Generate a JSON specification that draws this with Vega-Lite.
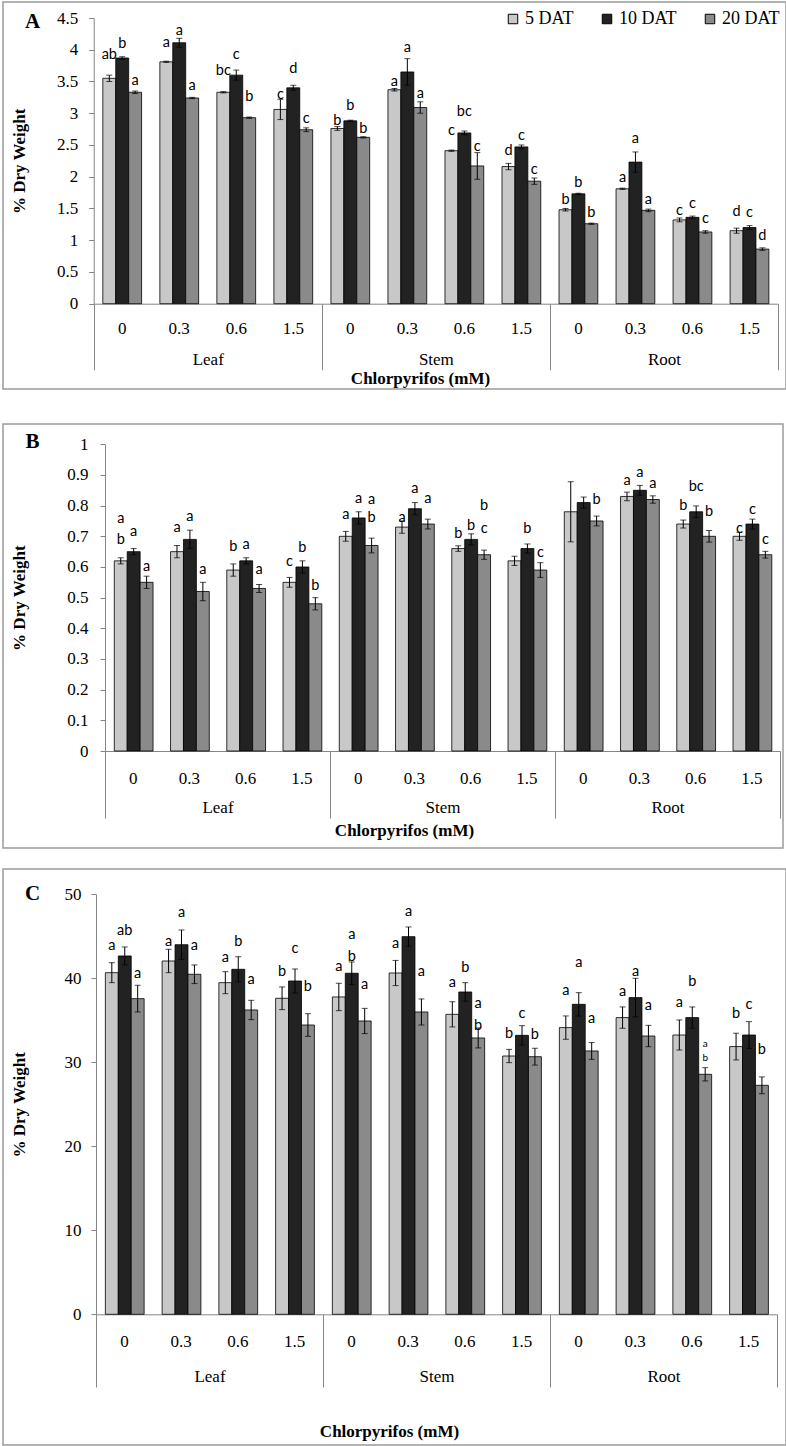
{
  "$schema": "https://vega.github.io/schema/vega-lite/v6.json",
  "padding": {"left": 2, "top": 1, "right": 0, "bottom": 0},
  "background": "white",
  "spacing": 33,
  "datasets": {
    "A": [
      {"cat":"Leaf 0","series":"5 DAT","value":3.55,"err":0.05},{"cat":"Leaf 0","series":"10 DAT","value":3.87,"err":0.02},{"cat":"Leaf 0","series":"20 DAT","value":3.33,"err":0.02},
      {"cat":"Leaf 0.3","series":"5 DAT","value":3.81,"err":0.01},{"cat":"Leaf 0.3","series":"10 DAT","value":4.11,"err":0.07},{"cat":"Leaf 0.3","series":"20 DAT","value":3.24,"err":0.01},
      {"cat":"Leaf 0.6","series":"5 DAT","value":3.33,"err":0.01},{"cat":"Leaf 0.6","series":"10 DAT","value":3.60,"err":0.08},{"cat":"Leaf 0.6","series":"20 DAT","value":2.93,"err":0.01},
      {"cat":"Leaf 1.5","series":"5 DAT","value":3.06,"err":0.16},{"cat":"Leaf 1.5","series":"10 DAT","value":3.40,"err":0.04},{"cat":"Leaf 1.5","series":"20 DAT","value":2.74,"err":0.03},
      {"cat":"Stem 0","series":"5 DAT","value":2.76,"err":0.03},{"cat":"Stem 0","series":"10 DAT","value":2.88,"err":0.01},{"cat":"Stem 0","series":"20 DAT","value":2.62,"err":0.01},
      {"cat":"Stem 0.3","series":"5 DAT","value":3.37,"err":0.02},{"cat":"Stem 0.3","series":"10 DAT","value":3.65,"err":0.21},{"cat":"Stem 0.3","series":"20 DAT","value":3.09,"err":0.09},
      {"cat":"Stem 0.6","series":"5 DAT","value":2.41,"err":0.01},{"cat":"Stem 0.6","series":"10 DAT","value":2.69,"err":0.03},{"cat":"Stem 0.6","series":"20 DAT","value":2.17,"err":0.21},
      {"cat":"Stem 1.5","series":"5 DAT","value":2.16,"err":0.05},{"cat":"Stem 1.5","series":"10 DAT","value":2.47,"err":0.03},{"cat":"Stem 1.5","series":"20 DAT","value":1.93,"err":0.05},
      {"cat":"Root 0","series":"5 DAT","value":1.48,"err":0.02},{"cat":"Root 0","series":"10 DAT","value":1.73,"err":0.01},{"cat":"Root 0","series":"20 DAT","value":1.26,"err":0.01},
      {"cat":"Root 0.3","series":"5 DAT","value":1.81,"err":0.01},{"cat":"Root 0.3","series":"10 DAT","value":2.23,"err":0.16},{"cat":"Root 0.3","series":"20 DAT","value":1.47,"err":0.02},
      {"cat":"Root 0.6","series":"5 DAT","value":1.32,"err":0.03},{"cat":"Root 0.6","series":"10 DAT","value":1.36,"err":0.02},{"cat":"Root 0.6","series":"20 DAT","value":1.13,"err":0.02},
      {"cat":"Root 1.5","series":"5 DAT","value":1.15,"err":0.04},{"cat":"Root 1.5","series":"10 DAT","value":1.20,"err":0.03},{"cat":"Root 1.5","series":"20 DAT","value":0.86,"err":0.02}
    ],
    "A_lab": [
      {"cat":"Leaf 0","series":"5 DAT","pos":3.92,"label":"ab"},{"cat":"Leaf 0","series":"10 DAT","pos":4.09,"label":"b"},{"cat":"Leaf 0","series":"20 DAT","pos":3.50,"label":"a"},
      {"cat":"Leaf 0.3","series":"5 DAT","pos":4.11,"label":"a"},{"cat":"Leaf 0.3","series":"10 DAT","pos":4.29,"label":"a"},{"cat":"Leaf 0.3","series":"20 DAT","pos":3.43,"label":"a"},
      {"cat":"Leaf 0.6","series":"5 DAT","pos":3.66,"label":"bc"},{"cat":"Leaf 0.6","series":"10 DAT","pos":3.91,"label":"c"},{"cat":"Leaf 0.6","series":"20 DAT","pos":3.26,"label":"b"},
      {"cat":"Leaf 1.5","series":"5 DAT","pos":3.28,"label":"c"},{"cat":"Leaf 1.5","series":"10 DAT","pos":3.69,"label":"d"},{"cat":"Leaf 1.5","series":"20 DAT","pos":2.91,"label":"c"},
      {"cat":"Stem 0","series":"5 DAT","pos":2.87,"label":"b"},{"cat":"Stem 0","series":"10 DAT","pos":3.12,"label":"b"},{"cat":"Stem 0","series":"20 DAT","pos":2.75,"label":"b"},
      {"cat":"Stem 0.3","series":"5 DAT","pos":3.49,"label":"a"},{"cat":"Stem 0.3","series":"10 DAT","pos":4.02,"label":"a"},{"cat":"Stem 0.3","series":"20 DAT","pos":3.31,"label":"a"},
      {"cat":"Stem 0.6","series":"5 DAT","pos":2.72,"label":"c"},{"cat":"Stem 0.6","series":"10 DAT","pos":3.02,"label":"bc"},{"cat":"Stem 0.6","series":"20 DAT","pos":2.47,"label":"c"},
      {"cat":"Stem 1.5","series":"5 DAT","pos":2.41,"label":"d"},{"cat":"Stem 1.5","series":"10 DAT","pos":2.64,"label":"c"},{"cat":"Stem 1.5","series":"20 DAT","pos":2.10,"label":"c"},
      {"cat":"Root 0","series":"5 DAT","pos":1.64,"label":"b"},{"cat":"Root 0","series":"10 DAT","pos":1.90,"label":"b"},{"cat":"Root 0","series":"20 DAT","pos":1.43,"label":"b"},
      {"cat":"Root 0.3","series":"5 DAT","pos":1.98,"label":"a"},{"cat":"Root 0.3","series":"10 DAT","pos":2.60,"label":"a"},{"cat":"Root 0.3","series":"20 DAT","pos":1.64,"label":"a"},
      {"cat":"Root 0.6","series":"5 DAT","pos":1.46,"label":"c"},{"cat":"Root 0.6","series":"10 DAT","pos":1.57,"label":"c"},{"cat":"Root 0.6","series":"20 DAT","pos":1.33,"label":"c"},
      {"cat":"Root 1.5","series":"5 DAT","pos":1.45,"label":"d"},{"cat":"Root 1.5","series":"10 DAT","pos":1.43,"label":"c"},{"cat":"Root 1.5","series":"20 DAT","pos":1.06,"label":"d"}
    ],
    "B": [
      {"cat":"Leaf 0","series":"5 DAT","value":0.62,"err":0.01},{"cat":"Leaf 0","series":"10 DAT","value":0.65,"err":0.01},{"cat":"Leaf 0","series":"20 DAT","value":0.55,"err":0.02},
      {"cat":"Leaf 0.3","series":"5 DAT","value":0.65,"err":0.02},{"cat":"Leaf 0.3","series":"10 DAT","value":0.69,"err":0.03},{"cat":"Leaf 0.3","series":"20 DAT","value":0.52,"err":0.03},
      {"cat":"Leaf 0.6","series":"5 DAT","value":0.59,"err":0.02},{"cat":"Leaf 0.6","series":"10 DAT","value":0.62,"err":0.01},{"cat":"Leaf 0.6","series":"20 DAT","value":0.53,"err":0.013},
      {"cat":"Leaf 1.5","series":"5 DAT","value":0.55,"err":0.016},{"cat":"Leaf 1.5","series":"10 DAT","value":0.60,"err":0.02},{"cat":"Leaf 1.5","series":"20 DAT","value":0.48,"err":0.02},
      {"cat":"Stem 0","series":"5 DAT","value":0.70,"err":0.016},{"cat":"Stem 0","series":"10 DAT","value":0.76,"err":0.02},{"cat":"Stem 0","series":"20 DAT","value":0.67,"err":0.024},
      {"cat":"Stem 0.3","series":"5 DAT","value":0.73,"err":0.02},{"cat":"Stem 0.3","series":"10 DAT","value":0.79,"err":0.02},{"cat":"Stem 0.3","series":"20 DAT","value":0.74,"err":0.016},
      {"cat":"Stem 0.6","series":"5 DAT","value":0.66,"err":0.009},{"cat":"Stem 0.6","series":"10 DAT","value":0.69,"err":0.018},{"cat":"Stem 0.6","series":"20 DAT","value":0.64,"err":0.015},
      {"cat":"Stem 1.5","series":"5 DAT","value":0.62,"err":0.015},{"cat":"Stem 1.5","series":"10 DAT","value":0.66,"err":0.015},{"cat":"Stem 1.5","series":"20 DAT","value":0.59,"err":0.024},
      {"cat":"Root 0","series":"5 DAT","value":0.78,"err":0.098},{"cat":"Root 0","series":"10 DAT","value":0.81,"err":0.018},{"cat":"Root 0","series":"20 DAT","value":0.75,"err":0.016},
      {"cat":"Root 0.3","series":"5 DAT","value":0.83,"err":0.014},{"cat":"Root 0.3","series":"10 DAT","value":0.85,"err":0.016},{"cat":"Root 0.3","series":"20 DAT","value":0.82,"err":0.012},
      {"cat":"Root 0.6","series":"5 DAT","value":0.74,"err":0.013},{"cat":"Root 0.6","series":"10 DAT","value":0.78,"err":0.019},{"cat":"Root 0.6","series":"20 DAT","value":0.70,"err":0.019},
      {"cat":"Root 1.5","series":"5 DAT","value":0.70,"err":0.013},{"cat":"Root 1.5","series":"10 DAT","value":0.74,"err":0.016},{"cat":"Root 1.5","series":"20 DAT","value":0.64,"err":0.011}
    ],
    "B_lab": [
      {"cat":"Leaf 0","series":"5 DAT","pos":0.757,"label":"a"},{"cat":"Leaf 0","series":"5 DAT","pos":0.687,"label":"b"},{"cat":"Leaf 0","series":"10 DAT","pos":0.714,"label":"a"},{"cat":"Leaf 0","series":"20 DAT","pos":0.60,"label":"a"},
      {"cat":"Leaf 0.3","series":"5 DAT","pos":0.726,"label":"a"},{"cat":"Leaf 0.3","series":"10 DAT","pos":0.763,"label":"a"},{"cat":"Leaf 0.3","series":"20 DAT","pos":0.589,"label":"a"},
      {"cat":"Leaf 0.6","series":"5 DAT","pos":0.665,"label":"b"},{"cat":"Leaf 0.6","series":"10 DAT","pos":0.672,"label":"a"},{"cat":"Leaf 0.6","series":"20 DAT","pos":0.589,"label":"a"},
      {"cat":"Leaf 1.5","series":"5 DAT","pos":0.616,"label":"c"},{"cat":"Leaf 1.5","series":"10 DAT","pos":0.661,"label":"b"},{"cat":"Leaf 1.5","series":"20 DAT","pos":0.538,"label":"b"},
      {"cat":"Stem 0","series":"5 DAT","pos":0.769,"label":"a"},{"cat":"Stem 0","series":"10 DAT","pos":0.821,"label":"a"},{"cat":"Stem 0","series":"20 DAT","pos":0.818,"label":"a"},{"cat":"Stem 0","series":"20 DAT","pos":0.759,"label":"b"},
      {"cat":"Stem 0.3","series":"5 DAT","pos":0.761,"label":"a"},{"cat":"Stem 0.3","series":"10 DAT","pos":0.855,"label":"a"},{"cat":"Stem 0.3","series":"20 DAT","pos":0.823,"label":"a"},
      {"cat":"Stem 0.6","series":"5 DAT","pos":0.709,"label":"b"},{"cat":"Stem 0.6","series":"10 DAT","pos":0.734,"label":"b"},{"cat":"Stem 0.6","series":"20 DAT","pos":0.799,"label":"b"},{"cat":"Stem 0.6","series":"20 DAT","pos":0.725,"label":"c"},
      {"cat":"Stem 1.5","series":"10 DAT","pos":0.723,"label":"b"},{"cat":"Stem 1.5","series":"20 DAT","pos":0.647,"label":"c"},
      {"cat":"Root 0","series":"20 DAT","pos":0.817,"label":"b"},
      {"cat":"Root 0.3","series":"5 DAT","pos":0.880,"label":"a"},{"cat":"Root 0.3","series":"10 DAT","pos":0.907,"label":"a"},{"cat":"Root 0.3","series":"20 DAT","pos":0.870,"label":"a"},
      {"cat":"Root 0.6","series":"5 DAT","pos":0.799,"label":"b"},{"cat":"Root 0.6","series":"10 DAT","pos":0.861,"label":"bc"},{"cat":"Root 0.6","series":"20 DAT","pos":0.780,"label":"b"},
      {"cat":"Root 1.5","series":"5 DAT","pos":0.723,"label":"c"},{"cat":"Root 1.5","series":"10 DAT","pos":0.785,"label":"c"},{"cat":"Root 1.5","series":"20 DAT","pos":0.687,"label":"c"}
    ],
    "C": [
      {"cat":"Leaf 0","series":"5 DAT","value":40.67,"err":1.19},{"cat":"Leaf 0","series":"10 DAT","value":42.66,"err":1.07},{"cat":"Leaf 0","series":"20 DAT","value":37.58,"err":1.59},
      {"cat":"Leaf 0.3","series":"5 DAT","value":42.06,"err":1.39},{"cat":"Leaf 0.3","series":"10 DAT","value":44.0,"err":1.75},{"cat":"Leaf 0.3","series":"20 DAT","value":40.48,"err":1.11},
      {"cat":"Leaf 0.6","series":"5 DAT","value":39.48,"err":1.31},{"cat":"Leaf 0.6","series":"10 DAT","value":41.07,"err":1.5},{"cat":"Leaf 0.6","series":"20 DAT","value":36.23,"err":1.15},
      {"cat":"Leaf 1.5","series":"5 DAT","value":37.62,"err":1.35},{"cat":"Leaf 1.5","series":"10 DAT","value":39.68,"err":1.43},{"cat":"Leaf 1.5","series":"20 DAT","value":34.44,"err":1.35},
      {"cat":"Stem 0","series":"5 DAT","value":37.78,"err":1.63},{"cat":"Stem 0","series":"10 DAT","value":40.6,"err":1.35},{"cat":"Stem 0","series":"20 DAT","value":34.92,"err":1.5},
      {"cat":"Stem 0.3","series":"5 DAT","value":40.63,"err":1.5},{"cat":"Stem 0.3","series":"10 DAT","value":44.96,"err":1.15},{"cat":"Stem 0.3","series":"20 DAT","value":35.99,"err":1.55},
      {"cat":"Stem 0.6","series":"5 DAT","value":35.71,"err":1.5},{"cat":"Stem 0.6","series":"10 DAT","value":38.37,"err":1.11},{"cat":"Stem 0.6","series":"20 DAT","value":32.9,"err":1.19},
      {"cat":"Stem 1.5","series":"5 DAT","value":30.75,"err":0.79},{"cat":"Stem 1.5","series":"10 DAT","value":33.21,"err":1.15},{"cat":"Stem 1.5","series":"20 DAT","value":30.67,"err":1.0},
      {"cat":"Root 0","series":"5 DAT","value":34.13,"err":1.39},{"cat":"Root 0","series":"10 DAT","value":36.9,"err":1.39},{"cat":"Root 0","series":"20 DAT","value":31.35,"err":1.0},
      {"cat":"Root 0.3","series":"5 DAT","value":35.32,"err":1.27},{"cat":"Root 0.3","series":"10 DAT","value":37.7,"err":2.3},{"cat":"Root 0.3","series":"20 DAT","value":33.13,"err":1.27},
      {"cat":"Root 0.6","series":"5 DAT","value":33.25,"err":1.79},{"cat":"Root 0.6","series":"10 DAT","value":35.32,"err":1.27},{"cat":"Root 0.6","series":"20 DAT","value":28.57,"err":0.79},
      {"cat":"Root 1.5","series":"5 DAT","value":31.87,"err":1.59},{"cat":"Root 1.5","series":"10 DAT","value":33.25,"err":1.59},{"cat":"Root 1.5","series":"20 DAT","value":27.26,"err":1.0}
    ],
    "C_lab": [
      {"cat":"Leaf 0","series":"5 DAT","pos":43.85,"label":"a"},{"cat":"Leaf 0","series":"10 DAT","pos":45.6,"label":"ab"},{"cat":"Leaf 0","series":"20 DAT","pos":40.5,"label":"a"},
      {"cat":"Leaf 0.3","series":"5 DAT","pos":44.37,"label":"a"},{"cat":"Leaf 0.3","series":"10 DAT","pos":47.8,"label":"a"},{"cat":"Leaf 0.3","series":"20 DAT","pos":43.85,"label":"a"},
      {"cat":"Leaf 0.6","series":"5 DAT","pos":42.46,"label":"a"},{"cat":"Leaf 0.6","series":"10 DAT","pos":44.37,"label":"b"},{"cat":"Leaf 0.6","series":"20 DAT","pos":39.76,"label":"a"},
      {"cat":"Leaf 1.5","series":"5 DAT","pos":40.75,"label":"b"},{"cat":"Leaf 1.5","series":"10 DAT","pos":43.53,"label":"c"},{"cat":"Leaf 1.5","series":"20 DAT","pos":39.0,"label":"b"},
      {"cat":"Stem 0","series":"5 DAT","pos":41.35,"label":"a"},{"cat":"Stem 0","series":"10 DAT","pos":45.12,"label":"a"},{"cat":"Stem 0","series":"10 DAT","pos":42.54,"label":"b"},{"cat":"Stem 0","series":"20 DAT","pos":39.17,"label":"a"},
      {"cat":"Stem 0.3","series":"5 DAT","pos":44.13,"label":"a"},{"cat":"Stem 0.3","series":"10 DAT","pos":47.9,"label":"a"},{"cat":"Stem 0.3","series":"20 DAT","pos":40.79,"label":"a"},
      {"cat":"Stem 0.6","series":"5 DAT","pos":39.4,"label":"a"},{"cat":"Stem 0.6","series":"10 DAT","pos":41.19,"label":"b"},{"cat":"Stem 0.6","series":"20 DAT","pos":36.9,"label":"a"},{"cat":"Stem 0.6","series":"20 DAT","pos":34.33,"label":"b"},
      {"cat":"Stem 1.5","series":"5 DAT","pos":33.41,"label":"b"},{"cat":"Stem 1.5","series":"10 DAT","pos":35.71,"label":"c"},{"cat":"Stem 1.5","series":"20 DAT","pos":33.21,"label":"b"},
      {"cat":"Root 0","series":"5 DAT","pos":38.49,"label":"a"},{"cat":"Root 0","series":"10 DAT","pos":41.87,"label":"a"},{"cat":"Root 0","series":"20 DAT","pos":35.12,"label":"a"},
      {"cat":"Root 0.3","series":"5 DAT","pos":38.41,"label":"a"},{"cat":"Root 0.3","series":"10 DAT","pos":40.75,"label":"a"},{"cat":"Root 0.3","series":"20 DAT","pos":36.71,"label":"a"},
      {"cat":"Root 0.6","series":"5 DAT","pos":37.1,"label":"a"},{"cat":"Root 0.6","series":"10 DAT","pos":39.56,"label":"b"},
      {"cat":"Root 1.5","series":"5 DAT","pos":35.71,"label":"b"},{"cat":"Root 1.5","series":"10 DAT","pos":36.79,"label":"c"},{"cat":"Root 1.5","series":"20 DAT","pos":31.43,"label":"b"}
    ],
    "C_small": [
      {"cat":"Root 0.6","series":"20 DAT","pos":32.14,"label":"a"},{"cat":"Root 0.6","series":"20 DAT","pos":30.48,"label":"b"}
    ],
    "organs": [{"organ":"Leaf"},{"organ":"Stem"},{"organ":"Root"}]
  },
  "vconcat": [
    {
      "width": 783, "height": 387,
      "resolve": {"scale": {"x": "independent", "y": "independent"}, "axis": {"x": "independent", "y": "independent"}},
      "layer": [
        {
          "encoding": {
            "x": {"field": "cat", "type": "nominal", "sort": null,
              "scale": {"domain": ["Leaf 0","Leaf 0.3","Leaf 0.6","Leaf 1.5","Stem 0","Stem 0.3","Stem 0.6","Stem 1.5","Root 0","Root 0.3","Root 0.6","Root 1.5"], "range": [90.7, 775], "paddingInner": 0.32, "paddingOuter": 0.16},
              "axis": {"orient": "bottom", "offset": -85.3, "title": null, "ticks": false, "domainColor": "#868686", "labelExpr": "split(datum.label, ' ')[1]", "labelFont": "Liberation Serif", "labelFontSize": 17, "labelColor": "black", "labelPadding": 17, "labelAngle": 0}},
            "xOffset": {"field": "series", "type": "nominal", "sort": null, "scale": {"domain": ["5 DAT","10 DAT","20 DAT"], "paddingInner": 0}}
          },
          "layer": [
            {
              "data": {"name": "A"},
              "mark": {"type": "bar", "stroke": "black", "strokeWidth": 0.8},
              "encoding": {
                "y": {"field": "value", "type": "quantitative", "scale": {"domain": [0, 4.5], "range": [301.7, 16], "nice": false},
                  "axis": {"title": "% Dry Weight", "offset": -90.7, "values": [0,0.5,1,1.5,2,2.5,3,3.5,4,4.5], "format": ".1~f", "grid": false, "domainColor": "#868686", "tickColor": "#868686", "tickSize": 5, "labelFont": "Liberation Serif", "labelFontSize": 17, "labelColor": "black", "labelPadding": 11, "titleFont": "Liberation Serif", "titleFontSize": 17, "titleFontWeight": "bold", "titleColor": "black", "titleX": -74.7, "titleBaseline": "middle"}},
                "color": {"field": "series", "type": "nominal", "sort": null, "scale": {"domain": ["5 DAT","10 DAT","20 DAT"], "range": ["#c8c8c8","#222222","#8a8a8a"]},
                  "legend": {"orient": "none", "legendX": 501, "legendY": 8, "direction": "horizontal", "title": null, "symbolType": "square", "symbolSize": 90, "symbolStrokeColor": "black", "symbolStrokeWidth": 1, "symbolOpacity": 1, "labelFont": "Liberation Serif", "labelFontSize": 18, "labelColor": "black", "labelOffset": 3, "columnPadding": 24, "padding": 0}}
              }
            },
            {
              "data": {"name": "A"},
              "mark": {"type": "errorbar", "ticks": true, "size": 6, "thickness": 1, "color": "black"},
              "encoding": {"y": {"field": "value", "type": "quantitative", "title": "% Dry Weight"}, "yError": {"field": "err"}}
            },
            {
              "data": {"name": "A_lab"},
              "mark": {"type": "text", "baseline": "middle", "font": "Lato", "fontSize": 14.5, "color": "black"},
              "encoding": {"y": {"field": "pos", "type": "quantitative", "title": "% Dry Weight"}, "text": {"field": "label"}}
            }
          ]
        },
        {
          "data": {"name": "organs"},
          "mark": {"type": "text", "text": "", "opacity": 0},
          "encoding": {
            "x": {"field": "organ", "type": "nominal", "sort": null,
              "scale": {"domain": ["Leaf","Stem","Root"], "range": [90.7, 775], "paddingInner": 0, "paddingOuter": 0},
              "axis": {"orient": "bottom", "offset": -85.3, "domain": false, "ticks": true, "tickBand": "extent", "tickSize": 66, "tickColor": "#868686", "labelFont": "Liberation Serif", "labelFontSize": 17, "labelColor": "black", "labelBaseline": "middle", "labelPadding": -10, "labelAngle": 0, "title": "Chlorpyrifos (mM)", "titleFont": "Liberation Serif", "titleFontSize": 17, "titleFontWeight": "bold", "titleColor": "black", "titleX": 417, "titleY": 74.5, "titleBaseline": "middle"}},
            "y": {"field": "organ", "type": "nominal", "sort": null, "scale": {"domain": ["Leaf","Stem","Root"]},
              "axis": {"orient": "left", "offset": 0, "labels": false, "ticks": false, "domain": false, "grid": false, "title": "A", "titleAngle": 0, "titleX": 29, "titleY": 19, "titleAlign": "center", "titleBaseline": "middle", "titleFont": "Liberation Serif", "titleFontSize": 21, "titleFontWeight": "bold", "titleColor": "black"}}
          }
        }
      ]
    },
    {
      "spacing": 19,
      "vconcat": [
        {
          "width": 780, "height": 424,
          "resolve": {"scale": {"x": "independent", "y": "independent"}, "axis": {"x": "independent", "y": "independent"}},
          "layer": [
            {
              "encoding": {
                "x": {"field": "cat", "type": "nominal", "sort": null,
                  "scale": {"domain": ["Leaf 0","Leaf 0.3","Leaf 0.6","Leaf 1.5","Stem 0","Stem 0.3","Stem 0.6","Stem 1.5","Root 0","Root 0.3","Root 0.6","Root 1.5"], "range": [102, 777], "paddingInner": 0.33, "paddingOuter": 0.165},
                  "axis": {"orient": "bottom", "offset": -97, "title": null, "ticks": false, "domainColor": "#868686", "labelExpr": "split(datum.label, ' ')[1]", "labelFont": "Liberation Serif", "labelFontSize": 17, "labelColor": "black", "labelPadding": 19, "labelAngle": 0}},
                "xOffset": {"field": "series", "type": "nominal", "sort": null, "scale": {"domain": ["5 DAT","10 DAT","20 DAT"], "paddingInner": 0}}
              },
              "layer": [
                {
                  "data": {"name": "B"},
                  "mark": {"type": "bar", "stroke": "black", "strokeWidth": 0.8},
                  "encoding": {
                    "y": {"field": "value", "type": "quantitative", "scale": {"domain": [0, 1], "range": [327, 20.3], "nice": false},
                      "axis": {"title": "% Dry Weight", "offset": -102, "values": [0,0.1,0.2,0.3,0.4,0.5,0.6,0.7,0.8,0.9,1], "format": ".1~f", "grid": false, "domainColor": "#868686", "tickColor": "#868686", "tickSize": 5, "labelFont": "Liberation Serif", "labelFontSize": 17, "labelColor": "black", "labelPadding": 12, "titleFont": "Liberation Serif", "titleFontSize": 17, "titleFontWeight": "bold", "titleColor": "black", "titleX": -86, "titleBaseline": "middle"}},
                    "color": {"field": "series", "type": "nominal", "sort": null, "scale": {"domain": ["5 DAT","10 DAT","20 DAT"], "range": ["#c8c8c8","#222222","#8a8a8a"]},
                      "legend": {"orient": "none", "legendX": 481, "legendY": 6.3, "direction": "horizontal", "title": null, "symbolType": "square", "symbolSize": 90, "symbolStrokeColor": "black", "symbolStrokeWidth": 1, "symbolOpacity": 1, "labelFont": "Liberation Serif", "labelFontSize": 18, "labelColor": "black", "labelOffset": 3, "columnPadding": 26, "padding": 0}}
                  }
                },
                {
                  "data": {"name": "B"},
                  "mark": {"type": "errorbar", "ticks": true, "size": 6, "thickness": 1, "color": "black"},
                  "encoding": {"y": {"field": "value", "type": "quantitative", "title": "% Dry Weight"}, "yError": {"field": "err"}}
                },
                {
                  "data": {"name": "B_lab"},
                  "mark": {"type": "text", "baseline": "middle", "font": "Lato", "fontSize": 14.5, "color": "black"},
                  "encoding": {"y": {"field": "pos", "type": "quantitative", "title": "% Dry Weight"}, "text": {"field": "label"}}
                }
              ]
            },
            {
              "data": {"name": "organs"},
              "mark": {"type": "text", "text": "", "opacity": 0},
              "encoding": {
                "x": {"field": "organ", "type": "nominal", "sort": null,
                  "scale": {"domain": ["Leaf","Stem","Root"], "range": [102, 777], "paddingInner": 0, "paddingOuter": 0},
                  "axis": {"orient": "bottom", "offset": -97, "domain": false, "ticks": true, "tickBand": "extent", "tickSize": 67, "tickColor": "#868686", "labelFont": "Liberation Serif", "labelFontSize": 17, "labelColor": "black", "labelBaseline": "middle", "labelPadding": -11, "labelAngle": 0, "title": "Chlorpyrifos (mM)", "titleFont": "Liberation Serif", "titleFontSize": 17, "titleFontWeight": "bold", "titleColor": "black", "titleX": 401, "titleY": 79, "titleBaseline": "middle"}},
                "y": {"field": "organ", "type": "nominal", "sort": null, "scale": {"domain": ["Leaf","Stem","Root"]},
                  "axis": {"orient": "left", "offset": 0, "labels": false, "ticks": false, "domain": false, "grid": false, "title": "B", "titleAngle": 0, "titleX": 29, "titleY": 17, "titleAlign": "center", "titleBaseline": "middle", "titleFont": "Liberation Serif", "titleFontSize": 21, "titleFontWeight": "bold", "titleColor": "black"}}
              }
            }
          ]
        },
        {
          "width": 783, "height": 576,
          "resolve": {"scale": {"x": "independent", "y": "independent"}, "axis": {"x": "independent", "y": "independent"}},
          "layer": [
            {
              "encoding": {
                "x": {"field": "cat", "type": "nominal", "sort": null,
                  "scale": {"domain": ["Leaf 0","Leaf 0.3","Leaf 0.6","Leaf 1.5","Stem 0","Stem 0.3","Stem 0.6","Stem 1.5","Root 0","Root 0.3","Root 0.6","Root 1.5"], "range": [93, 774], "paddingInner": 0.33, "paddingOuter": 0.165},
                  "axis": {"orient": "bottom", "offset": -130.7, "title": null, "ticks": false, "domainColor": "#868686", "labelExpr": "split(datum.label, ' ')[1]", "labelFont": "Liberation Serif", "labelFontSize": 17, "labelColor": "black", "labelPadding": 18.7, "labelAngle": 0}},
                "xOffset": {"field": "series", "type": "nominal", "sort": null, "scale": {"domain": ["5 DAT","10 DAT","20 DAT"], "paddingInner": 0}}
              },
              "layer": [
                {
                  "data": {"name": "C"},
                  "mark": {"type": "bar", "stroke": "black", "strokeWidth": 0.8},
                  "encoding": {
                    "y": {"field": "value", "type": "quantitative", "scale": {"domain": [0, 50], "range": [445.3, 25.3], "nice": false},
                      "axis": {"title": "% Dry Weight", "offset": -93, "values": [0,10,20,30,40,50], "format": ".1~f", "grid": false, "domainColor": "#868686", "tickColor": "#868686", "tickSize": 5, "labelFont": "Liberation Serif", "labelFontSize": 17, "labelColor": "black", "labelPadding": 10, "titleFont": "Liberation Serif", "titleFontSize": 17, "titleFontWeight": "bold", "titleColor": "black", "titleX": -77, "titleBaseline": "middle"}},
                    "color": {"field": "series", "type": "nominal", "sort": null, "scale": {"domain": ["5 DAT","10 DAT","20 DAT"], "range": ["#c8c8c8","#222222","#8a8a8a"]},
                      "legend": {"orient": "none", "legendX": 466, "legendY": 16.3, "direction": "horizontal", "title": null, "symbolType": "square", "symbolSize": 90, "symbolStrokeColor": "black", "symbolStrokeWidth": 1, "symbolOpacity": 1, "labelFont": "Liberation Serif", "labelFontSize": 18, "labelColor": "black", "labelOffset": 3, "columnPadding": 28, "padding": 0}}
                  }
                },
                {
                  "data": {"name": "C"},
                  "mark": {"type": "errorbar", "ticks": true, "size": 6, "thickness": 1, "color": "black"},
                  "encoding": {"y": {"field": "value", "type": "quantitative", "title": "% Dry Weight"}, "yError": {"field": "err"}}
                },
                {
                  "data": {"name": "C_lab"},
                  "mark": {"type": "text", "baseline": "middle", "font": "Lato", "fontSize": 14.5, "color": "black"},
                  "encoding": {"y": {"field": "pos", "type": "quantitative", "title": "% Dry Weight"}, "text": {"field": "label"}}
                },
                {
                  "data": {"name": "C_small"},
                  "mark": {"type": "text", "baseline": "middle", "font": "Lato", "fontSize": 10, "color": "black"},
                  "encoding": {"y": {"field": "pos", "type": "quantitative", "title": "% Dry Weight"}, "text": {"field": "label"}}
                }
              ]
            },
            {
              "data": {"name": "organs"},
              "mark": {"type": "text", "text": "", "opacity": 0},
              "encoding": {
                "x": {"field": "organ", "type": "nominal", "sort": null,
                  "scale": {"domain": ["Leaf","Stem","Root"], "range": [93, 774], "paddingInner": 0, "paddingOuter": 0},
                  "axis": {"orient": "bottom", "offset": -130.7, "domain": false, "ticks": true, "tickBand": "extent", "tickSize": 72.7, "tickColor": "#868686", "labelFont": "Liberation Serif", "labelFontSize": 17, "labelColor": "black", "labelBaseline": "middle", "labelPadding": -11, "labelAngle": 0, "title": "Chlorpyrifos (mM)", "titleFont": "Liberation Serif", "titleFontSize": 17, "titleFontWeight": "bold", "titleColor": "black", "titleX": 386, "titleY": 117, "titleBaseline": "middle"}},
                "y": {"field": "organ", "type": "nominal", "sort": null, "scale": {"domain": ["Leaf","Stem","Root"]},
                  "axis": {"orient": "left", "offset": 0, "labels": false, "ticks": false, "domain": false, "grid": false, "title": "C", "titleAngle": 0, "titleX": 29, "titleY": 24, "titleAlign": "center", "titleBaseline": "middle", "titleFont": "Liberation Serif", "titleFontSize": 21, "titleFontWeight": "bold", "titleColor": "black"}}
              }
            }
          ]
        }
      ]
    }
  ],
  "config": {
    "view": {"stroke": "#9a9a9a", "strokeWidth": 1.5},
    "axis": {"grid": false}
  }
}
